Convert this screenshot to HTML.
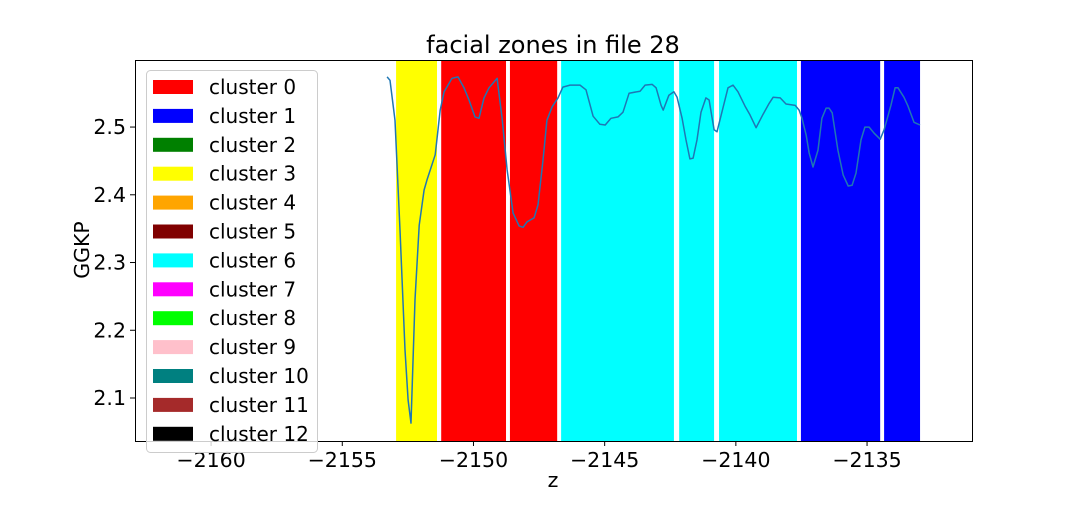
<!DOCTYPE html>
<html><head><meta charset="utf-8"><style>
body{margin:0;background:#fff;}
svg text{font-family:"DejaVu Sans","Liberation Sans",sans-serif;fill:#000;}
</style></head><body>
<svg id="chart" width="1080" height="504">
<text x="553" y="53" font-size="24" text-anchor="middle">facial zones in file 28</text>
<g id="spans"></g>
<g id="line"></g>
<rect x="135.5" y="60.5" width="837" height="381" fill="none" stroke="#000" stroke-width="1"/>
<g id="xticks"></g>
<g id="yticks"></g>
<text x="553" y="487" font-size="20.5" text-anchor="middle">z</text>
<text transform="translate(89,250) rotate(-90)" font-size="20.5" text-anchor="middle">GGKP</text>
<g id="legend"></g>
</svg>
<script>
const clusterNames=["cluster 0","cluster 1","cluster 2","cluster 3","cluster 4","cluster 5","cluster 6","cluster 7","cluster 8","cluster 9","cluster 10","cluster 11","cluster 12"];
const clusterColors=["#ff0000","#0000ff","#008000","#ffff00","#ffa500","#800000","#00ffff","#ff00ff","#00ff00","#ffc0cb","#008080","#a52a2a","#000000"];
const spanStart=[-2152.95,-2151.23,-2148.61,-2146.66,-2142.16,-2140.64,-2137.52,-2134.35];
const spanEnd=[-2151.39,-2148.76,-2146.81,-2142.36,-2140.83,-2137.67,-2134.50,-2132.98];
const spanCluster=[3,0,0,6,6,6,1,1];
const zVals=[-2153.29,-2153.18,-2152.99,-2152.80,-2152.61,-2152.49,-2152.38,-2152.23,-2152.07,-2151.88,-2151.77,-2151.46,-2151.27,-2151.12,-2150.97,-2150.82,-2150.59,-2150.36,-2150.17,-2149.94,-2149.79,-2149.60,-2149.41,-2149.10,-2148.91,-2148.72,-2148.49,-2148.26,-2148.11,-2147.96,-2147.69,-2147.54,-2147.35,-2147.20,-2147.00,-2146.78,-2146.59,-2146.32,-2145.94,-2145.71,-2145.44,-2145.18,-2144.98,-2144.76,-2144.49,-2144.30,-2144.07,-2143.65,-2143.46,-2143.19,-2143.04,-2142.85,-2142.77,-2142.55,-2142.36,-2142.24,-2142.05,-2141.90,-2141.75,-2141.63,-2141.48,-2141.33,-2141.14,-2141.02,-2140.83,-2140.72,-2140.53,-2140.30,-2140.11,-2139.92,-2139.65,-2139.46,-2139.23,-2138.96,-2138.73,-2138.58,-2138.31,-2138.09,-2137.74,-2137.59,-2137.48,-2137.32,-2137.21,-2137.06,-2136.87,-2136.72,-2136.56,-2136.45,-2136.33,-2136.11,-2135.91,-2135.72,-2135.57,-2135.42,-2135.23,-2135.08,-2134.92,-2134.73,-2134.50,-2134.35,-2134.09,-2133.93,-2133.82,-2133.59,-2133.44,-2133.21,-2132.98];
const ggkpVals=[2.574,2.569,2.510,2.348,2.171,2.097,2.063,2.245,2.355,2.407,2.422,2.459,2.525,2.552,2.562,2.572,2.574,2.558,2.540,2.515,2.513,2.543,2.558,2.572,2.513,2.437,2.373,2.354,2.352,2.360,2.366,2.385,2.451,2.510,2.530,2.543,2.559,2.562,2.562,2.555,2.516,2.504,2.503,2.513,2.515,2.522,2.550,2.553,2.562,2.563,2.558,2.532,2.525,2.547,2.552,2.544,2.513,2.481,2.453,2.454,2.481,2.522,2.543,2.540,2.496,2.493,2.522,2.558,2.562,2.552,2.531,2.518,2.499,2.519,2.535,2.544,2.543,2.534,2.532,2.525,2.513,2.488,2.462,2.441,2.466,2.513,2.528,2.528,2.521,2.466,2.429,2.413,2.414,2.432,2.481,2.500,2.500,2.491,2.482,2.496,2.532,2.558,2.558,2.544,2.531,2.507,2.503];
const xTickVals=[-2160,-2155,-2150,-2145,-2140,-2135];
const xTickLabels=["−2160","−2155","−2150","−2145","−2140","−2135"];
const yTickVals=[2.1,2.2,2.3,2.4,2.5];
const yTickLabels=["2.1","2.2","2.3","2.4","2.5"];

const NS="http://www.w3.org/2000/svg";
const X0=135,X1=972,Y0=60,Y1=441;
const zMin=-2162.90,zMax=-2131.00,yMin=2.0365,yMax=2.599;
const sx=z=>X0+(z-zMin)/(zMax-zMin)*(X1-X0);
const sy=v=>Y1-(v-yMin)/(yMax-yMin)*(Y1-Y0);
function mk(tag,attrs,parent){const e=document.createElementNS(NS,tag);for(const k in attrs)e.setAttribute(k,attrs[k]);parent.appendChild(e);return e;}

const spans=document.getElementById('spans');
spanStart.forEach((s,i)=>{
  const r=mk('rect',{x:sx(s),y:Y0,width:sx(spanEnd[i])-sx(s),height:Y1-Y0,fill:clusterColors[spanCluster[i]]},spans);
  
  
});
const pts=zVals.map((z,i)=>sx(z).toFixed(1)+','+sy(ggkpVals[i]).toFixed(1)).join(' ');
const pl=mk('polyline',{points:pts,fill:'none',stroke:'#1f77b4','stroke-width':1.5,'stroke-linejoin':'round'},document.getElementById('line'));



const xt=document.getElementById('xticks');
xTickVals.forEach((v,i)=>{
  const x=sx(v);
  const l=mk('line',{x1:x,x2:x,y1:Y1,y2:Y1+5,stroke:'#000'},xt);
  
  
  const t=mk('text',{x:x,y:Y1+26,'font-size':20.5,'text-anchor':'middle'},xt);
  t.textContent=xTickLabels[i];
  
  
});
const yt=document.getElementById('yticks');
yTickVals.forEach((v,i)=>{
  const y=sy(v);
  const l=mk('line',{x1:X0-5,x2:X0,y1:y,y2:y,stroke:'#000'},yt);
  
  
  const t=mk('text',{x:X0-9,y:y+7,'font-size':20.5,'text-anchor':'end'},yt);
  t.textContent=yTickLabels[i];
  
  
});

const lg=document.getElementById('legend');
const box=mk('rect',{x:146.5,y:70.5,width:171,height:382,rx:4,fill:'#fff','fill-opacity':0.8,stroke:'#ccc'},lg);


clusterNames.forEach((n,i)=>{
  const y=87+i*28.9;
  const p=mk('rect',{x:153,y:y-7,width:40,height:14,fill:clusterColors[i]},lg);
  
  
  const t=mk('text',{x:209,y:y+7,'font-size':20},lg);
  t.textContent=n;
  
  
});
</script>
</body></html>
